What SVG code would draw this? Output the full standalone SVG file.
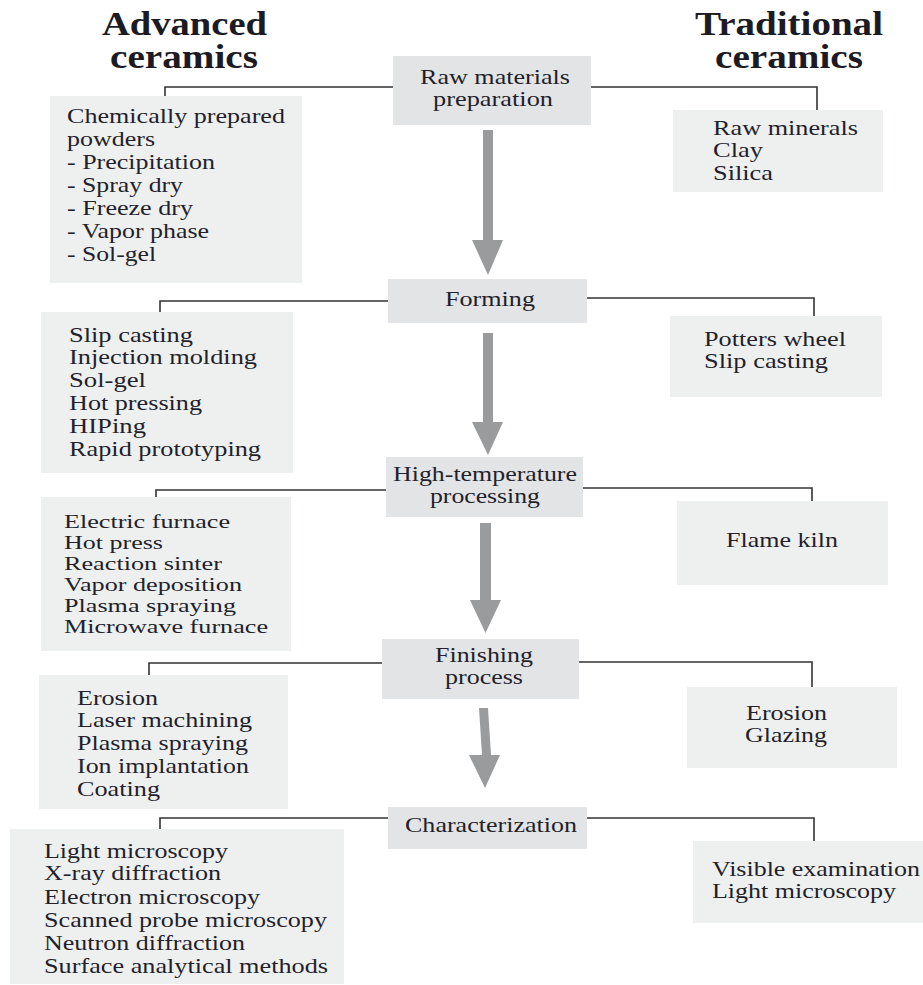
<svg xmlns="http://www.w3.org/2000/svg" width="923" height="985" viewBox="0 0 923 985">
<style>
text{font-family:"Liberation Serif","Times New Roman",serif;font-size:21px;fill:#231f2b}
.h{font-weight:bold;font-size:33px;fill:#1c1a22}
.s{font-size:19px}
.c{fill:#e3e4e5}
.side{fill:#eeefef}
.con{fill:none;stroke:#333;stroke-width:1.6}
.arr{fill:#9a9b9d}
</style>
<rect width="923" height="985" fill="#fff"/>
<g id="headers">
<text class="h" x="102" y="35" textLength="165" lengthAdjust="spacingAndGlyphs">Advanced</text>
<text class="h" x="110" y="68" textLength="148" lengthAdjust="spacingAndGlyphs">ceramics</text>
<text class="h" x="695" y="35" textLength="188" lengthAdjust="spacingAndGlyphs">Traditional</text>
<text class="h" x="715" y="68" textLength="148" lengthAdjust="spacingAndGlyphs">ceramics</text>
</g>
<g id="connectors">
<path class="con" d="M393 87H165V96"/>
<path class="con" d="M590 87H817V110"/>
<path class="con" d="M388 301H160V312"/>
<path class="con" d="M587 298H814V316"/>
<path class="con" d="M386 490H156V497"/>
<path class="con" d="M583 488H812V501"/>
<path class="con" d="M382 663H149V675"/>
<path class="con" d="M579 662H812V687"/>
<path class="con" d="M388 818H160V829"/>
<path class="con" d="M587 818H814V841"/>
<polygon class="arr" points="483,130 493,130 493,240 503,240 488,275 472,240 483,240"/>
<polygon class="arr" points="483,333 493,333 493,422 503,422 488,455 472,422 483,422"/>
<polygon class="arr" points="480,523 491,523 491,600 501,600 485.5,633 470,600 480,600"/>
<polygon class="arr" points="479,708 488,708 491,755 500,755 485,788 469,755 482,755"/>
</g>
<g id="raw">
<rect class="c" x="393" y="56" width="198" height="69"/>
<text x="420" y="84" textLength="150" lengthAdjust="spacingAndGlyphs">Raw materials</text>
<text x="433" y="106" textLength="120" lengthAdjust="spacingAndGlyphs">preparation</text>
</g>
<g id="adv-raw">
<rect class="side" x="50" y="96" width="252" height="187"/>
<text x="67" y="123" textLength="218" lengthAdjust="spacingAndGlyphs">Chemically prepared</text>
<text x="67" y="146" textLength="88" lengthAdjust="spacingAndGlyphs">powders</text>
<text x="67" y="169" textLength="148" lengthAdjust="spacingAndGlyphs">- Precipitation</text>
<text x="67" y="192" textLength="116" lengthAdjust="spacingAndGlyphs">- Spray dry</text>
<text x="67" y="215" textLength="126" lengthAdjust="spacingAndGlyphs">- Freeze dry</text>
<text x="67" y="238" textLength="142" lengthAdjust="spacingAndGlyphs">- Vapor phase</text>
<text x="67" y="261" textLength="89" lengthAdjust="spacingAndGlyphs">- Sol-gel</text>
</g>
<g id="trad-raw">
<rect class="side" x="673" y="110" width="210" height="82"/>
<text x="713" y="135" textLength="145" lengthAdjust="spacingAndGlyphs">Raw minerals</text>
<text x="713" y="157" textLength="50" lengthAdjust="spacingAndGlyphs">Clay</text>
<text x="713" y="180" textLength="60" lengthAdjust="spacingAndGlyphs">Silica</text>
</g>
<g id="forming">
<rect class="c" x="388" y="279" width="199" height="44"/>
<text x="445" y="306" textLength="90" lengthAdjust="spacingAndGlyphs">Forming</text>
</g>
<g id="adv-forming">
<rect class="side" x="41" y="312" width="252" height="161"/>
<text x="69" y="342" textLength="124" lengthAdjust="spacingAndGlyphs">Slip casting</text>
<text x="69" y="364" textLength="188" lengthAdjust="spacingAndGlyphs">Injection molding</text>
<text x="69" y="387" textLength="77" lengthAdjust="spacingAndGlyphs">Sol-gel</text>
<text x="69" y="410" textLength="133" lengthAdjust="spacingAndGlyphs">Hot pressing</text>
<text x="69" y="433" textLength="77" lengthAdjust="spacingAndGlyphs">HIPing</text>
<text x="69" y="456" textLength="192" lengthAdjust="spacingAndGlyphs">Rapid prototyping</text>
</g>
<g id="trad-forming">
<rect class="side" x="670" y="316" width="212" height="81"/>
<text x="704" y="346" textLength="142" lengthAdjust="spacingAndGlyphs">Potters wheel</text>
<text x="704" y="368" textLength="124" lengthAdjust="spacingAndGlyphs">Slip casting</text>
</g>
<g id="hightemp">
<rect class="c" x="386" y="457" width="197" height="60"/>
<text x="393" y="481" textLength="184" lengthAdjust="spacingAndGlyphs">High-temperature</text>
<text x="430" y="503" textLength="110" lengthAdjust="spacingAndGlyphs">processing</text>
</g>
<g id="adv-hightemp">
<rect class="side" x="41" y="497" width="250" height="154"/>
<text class="s" x="64" y="528" textLength="166" lengthAdjust="spacingAndGlyphs">Electric furnace</text>
<text class="s" x="64" y="549" textLength="99" lengthAdjust="spacingAndGlyphs">Hot press</text>
<text class="s" x="64" y="570" textLength="158" lengthAdjust="spacingAndGlyphs">Reaction sinter</text>
<text class="s" x="64" y="591" textLength="178" lengthAdjust="spacingAndGlyphs">Vapor deposition</text>
<text class="s" x="64" y="612" textLength="172" lengthAdjust="spacingAndGlyphs">Plasma spraying</text>
<text class="s" x="64" y="633" textLength="204" lengthAdjust="spacingAndGlyphs">Microwave furnace</text>
</g>
<g id="trad-hightemp">
<rect class="side" x="677" y="501" width="211" height="84"/>
<text x="726" y="547" textLength="112" lengthAdjust="spacingAndGlyphs">Flame kiln</text>
</g>
<g id="finishing">
<rect class="c" x="382" y="639" width="197" height="60"/>
<text x="435" y="662" textLength="98" lengthAdjust="spacingAndGlyphs">Finishing</text>
<text x="445" y="684" textLength="78" lengthAdjust="spacingAndGlyphs">process</text>
</g>
<g id="adv-finishing">
<rect class="side" x="39" y="675" width="249" height="134"/>
<text x="77" y="705" textLength="81" lengthAdjust="spacingAndGlyphs">Erosion</text>
<text x="77" y="727" textLength="175" lengthAdjust="spacingAndGlyphs">Laser machining</text>
<text x="77" y="750" textLength="171" lengthAdjust="spacingAndGlyphs">Plasma spraying</text>
<text x="77" y="773" textLength="172" lengthAdjust="spacingAndGlyphs">Ion implantation</text>
<text x="77" y="796" textLength="83" lengthAdjust="spacingAndGlyphs">Coating</text>
</g>
<g id="trad-finishing">
<rect class="side" x="687" y="687" width="210" height="81"/>
<text x="746" y="720" textLength="81" lengthAdjust="spacingAndGlyphs">Erosion</text>
<text x="745" y="742" textLength="82" lengthAdjust="spacingAndGlyphs">Glazing</text>
</g>
<g id="characterization">
<rect class="c" x="388" y="807" width="199" height="42"/>
<text x="405" y="832" textLength="172" lengthAdjust="spacingAndGlyphs">Characterization</text>
</g>
<g id="adv-characterization">
<rect class="side" x="10" y="829" width="334" height="155"/>
<text x="44" y="858" textLength="184" lengthAdjust="spacingAndGlyphs">Light microscopy</text>
<text x="44" y="880" textLength="177" lengthAdjust="spacingAndGlyphs">X-ray diffraction</text>
<text x="44" y="904" textLength="216" lengthAdjust="spacingAndGlyphs">Electron microscopy</text>
<text x="44" y="927" textLength="283" lengthAdjust="spacingAndGlyphs">Scanned probe microscopy</text>
<text x="44" y="950" textLength="201" lengthAdjust="spacingAndGlyphs">Neutron diffraction</text>
<text x="44" y="973" textLength="284" lengthAdjust="spacingAndGlyphs">Surface analytical methods</text>
</g>
<g id="trad-characterization">
<rect class="side" x="693" y="841" width="230" height="82"/>
<text x="712" y="876" textLength="208" lengthAdjust="spacingAndGlyphs">Visible examination</text>
<text x="712" y="898" textLength="184" lengthAdjust="spacingAndGlyphs">Light microscopy</text>
</g>
</svg>
